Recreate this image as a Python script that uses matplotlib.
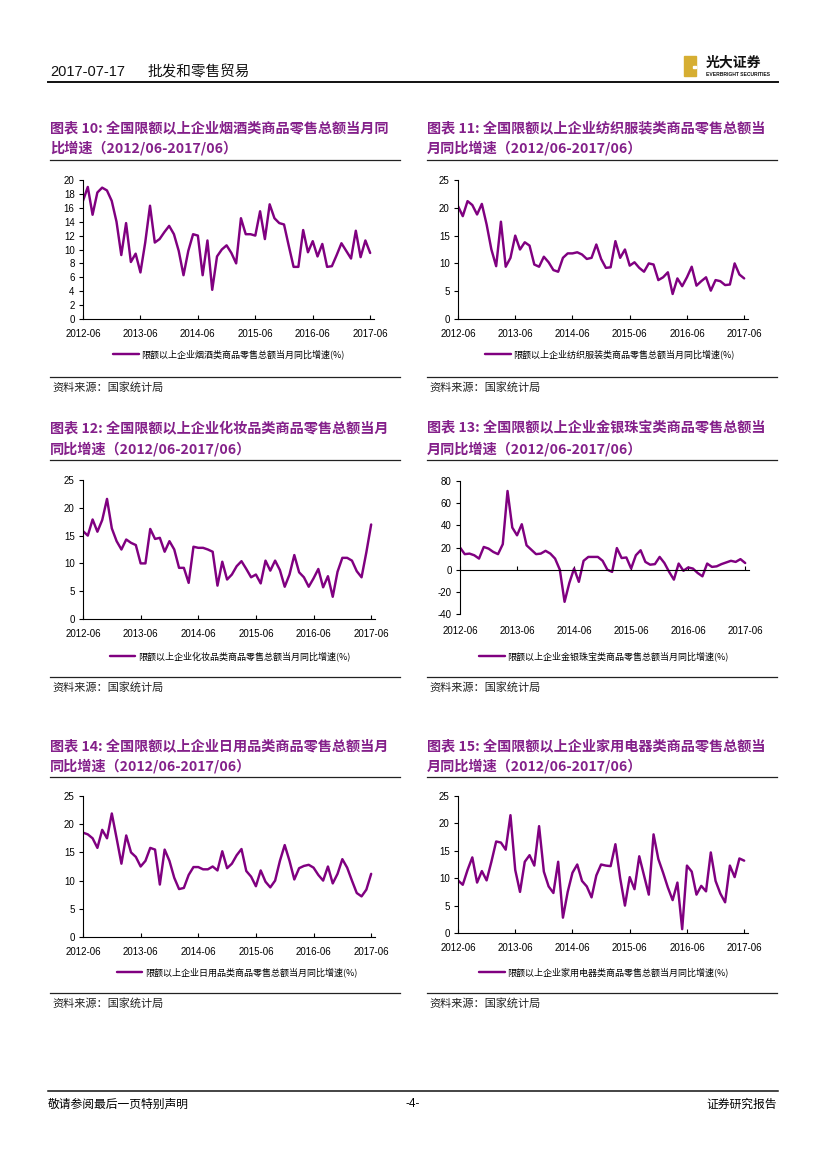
import numpy as np
import matplotlib
matplotlib.use("Agg")
import matplotlib.pyplot as plt
from matplotlib.lines import Line2D
from matplotlib.patches import Rectangle

plt.rcParams['font.family'] = ['Liberation Sans', 'Noto Sans CJK SC', 'DejaVu Sans']
plt.rcParams['axes.unicode_minus'] = False

# monthly series, 2012-06 .. 2017-06 (61 months), yoy growth %
months = np.arange(61)
tick_pos = [0, 12, 24, 36, 48, 60]
tick_labels = ['2012-06', '2013-06', '2014-06', '2015-06', '2016-06', '2017-06']

tobacco = [17.0, 19.0, 15.0, 18.2, 18.9, 18.5, 17.0, 14.0, 9.2, 13.8,
           8.2, 9.4, 6.7, 11.0, 16.3, 11.0, 11.5, 12.5, 13.4, 12.2,
           9.8, 6.3, 9.8, 12.2, 12.0, 6.3, 11.3, 4.2, 9.0, 10.0,
           10.6, 9.5, 8.0, 14.5, 12.2, 12.2, 12.0, 15.5, 11.5, 16.5,
           14.5, 13.8, 13.6, 10.5, 7.5, 7.5, 12.8, 9.6, 11.2, 9.0,
           10.8, 7.5, 7.6, 9.2, 10.9, 9.8, 8.7, 12.7, 8.9, 11.3, 9.5]

textile = [20.3, 18.5, 21.2, 20.5, 18.8, 20.7, 17.0, 12.5, 9.5, 17.5,
           9.4, 11.0, 15.0, 12.5, 13.8, 13.2, 9.8, 9.4, 11.2, 10.2,
           8.8, 8.5, 11.0, 11.8, 11.8, 12.0, 11.6, 10.8, 11.0, 13.4,
           10.8, 9.2, 9.3, 14.0, 11.0, 12.5, 9.6, 10.2, 9.2, 8.5,
           10.0, 9.8, 7.0, 7.5, 8.4, 4.5, 7.3, 5.9, 7.5, 9.4,
           6.0, 6.8, 7.5, 5.1, 7.0, 6.8, 6.1, 6.2, 10.0, 8.0, 7.3]

cosmetics = [15.8, 15.0, 17.9, 15.7, 17.8, 21.6, 16.3, 14.0, 12.5, 14.3,
             13.7, 13.3, 10.0, 10.0, 16.2, 14.4, 14.6, 12.1, 14.0, 12.5,
             9.2, 9.2, 6.5, 13.0, 12.8, 12.8, 12.5, 12.1, 6.0, 10.3,
             7.1, 8.0, 9.5, 10.4, 9.0, 7.5, 8.0, 6.4, 10.5, 8.7,
             10.5, 8.8, 5.8, 8.0, 11.5, 8.4, 7.5, 5.8, 7.3, 9.0,
             5.7, 7.7, 4.0, 8.5, 11.0, 11.0, 10.5, 8.6, 7.5, 12.0, 17.0]

jewelry = [20, 14, 14.5, 13, 10, 20.5, 19, 16, 14, 23,
           71, 38, 31, 41, 22, 18, 14, 14.5, 17, 14.5,
           10, 0, -29, -12, 1, -11, 8, 11.5, 11.5, 11.5,
           8, 0, -2, 19.5, 10.5, 11, 1, 13, 17.5, 7,
           4.5, 5, 11.5, 6, -2, -9, 5.5, -1, 2, 1,
           -3, -6, 5.5, 2.5, 3, 5, 6.5, 8, 7, 9.5, 6]

daily = [18.5, 18.2, 17.5, 15.8, 19.0, 17.5, 21.9, 17.5, 13.0, 18.0,
         15.0, 14.2, 12.5, 13.5, 15.8, 15.5, 9.3, 15.5, 13.5, 10.5,
         8.5, 8.7, 11.0, 12.4, 12.4, 12.0, 12.0, 12.5, 11.8, 15.2,
         12.2, 13.0, 14.5, 15.6, 11.7, 10.7, 9.0, 11.8, 9.8, 8.8,
         10.0, 13.5, 16.3, 13.5, 10.2, 12.2, 12.6, 12.8, 12.3, 11.0,
         10.0, 12.5, 9.5, 11.2, 13.8, 12.3, 10.0, 7.8, 7.2, 8.4, 11.2]

appliance = [9.6, 8.8, 11.5, 13.8, 9.2, 11.3, 9.6, 13.0, 16.7, 16.5,
             15.2, 21.5, 11.5, 7.5, 13.0, 14.2, 12.3, 19.5, 11.2, 8.5,
             7.3, 13.0, 2.8, 7.5, 11.0, 12.5, 9.5, 8.5, 6.5, 10.5,
             12.5, 12.3, 12.2, 16.2, 10.0, 5.0, 10.2, 8.0, 14.0, 10.5,
             7.0, 18.0, 13.5, 11.0, 8.3, 6.0, 9.2, 0.7, 12.3, 11.2,
             7.0, 8.6, 7.6, 14.7, 9.5, 7.2, 5.6, 12.3, 10.2, 13.6, 13.2]

titles = [
    ("图表 10: 全国限额以上企业烟酒类商品零售总额当月同", "比增速（2012/06-2017/06）"),
    ("图表 11: 全国限额以上企业纺织服装类商品零售总额当", "月同比增速（2012/06-2017/06）"),
    ("图表 12: 全国限额以上企业化妆品类商品零售总额当月", "同比增速（2012/06-2017/06）"),
    ("图表 13: 全国限额以上企业金银珠宝类商品零售总额当", "月同比增速（2012/06-2017/06）"),
    ("图表 14: 全国限额以上企业日用品类商品零售总额当月", "同比增速（2012/06-2017/06）"),
    ("图表 15: 全国限额以上企业家用电器类商品零售总额当", "月同比增速（2012/06-2017/06）"),
]
legend_labels = [
    "限额以上企业烟酒类商品零售总额当月同比增速(%)",
    "限额以上企业纺织服装类商品零售总额当月同比增速(%)",
    "限额以上企业化妆品类商品零售总额当月同比增速(%)",
    "限额以上企业金银珠宝类商品零售总额当月同比增速(%)",
    "限额以上企业日用品类商品零售总额当月同比增速(%)",
    "限额以上企业家用电器类商品零售总额当月同比增速(%)",
]
series = [tobacco, textile, cosmetics, jewelry, daily, appliance]
y_ranges = [(0, 20, 2), (0, 25, 5), (0, 25, 5), (-40, 80, 20), (0, 25, 5), (0, 25, 5)]

LINE = '#800080'
TITLE = '#84208A'
CJK = ['Noto Sans CJK SC', 'DejaVu Sans']

W, H = 827, 1169
fig = plt.figure(figsize=(8.27, 11.69), dpi=100)


def fx(px):
    return px / W


def fy(py):
    return 1 - py / H


def hline(x0, x1, y, lw=0.9, color='#222222'):
    fig.add_artist(Line2D([fx(x0), fx(x1)], [fy(y), fy(y)], color=color, lw=lw))


# page header
fig.text(fx(50), fy(72), "2017-07-17", fontsize=10.5, va='center', color='#111111')
fig.text(fx(148), fy(72), "批发和零售贸易", fontsize=10.5, va='center', family=CJK, color='#111111')
hline(48, 778, 82, lw=1.4, color='#111111')
fig.add_artist(Rectangle((fx(684), fy(76)), 12 / W, 20 / H, color='#D6AE32', transform=fig.transFigure))
fig.add_artist(Rectangle((fx(693), fy(67.5)), 3 / W, 2 / H, color='white', transform=fig.transFigure))
fig.text(fx(706), fy(63), "光大证券", fontsize=10, fontweight='bold', va='center', family=CJK, color='#111111')
fig.text(fx(706), fy(74), "EVERBRIGHT SECURITIES", fontsize=3.6, fontweight='bold', va='center', color='#111111')

# page footer
hline(48, 778, 1091, lw=1.1, color='#111111')
fig.text(fx(48), fy(1104), "敬请参阅最后一页特别声明", fontsize=8.5, va='center', family=CJK)
fig.text(fx(413), fy(1104), "-4-", fontsize=8.5, va='center', ha='center')
fig.text(fx(777), fy(1104), "证券研究报告", fontsize=8.5, va='center', ha='right', family=CJK)

# panel layout in page pixels
col_x = [(48, 400), (425, 777)]
row_y = [dict(t1=128, t2=148, rule=160, bottom_rule=377, src=387, leg=354),
         dict(t1=428, t2=449, rule=460, bottom_rule=677, src=687, leg=656),
         dict(t1=746, t2=766, rule=777, bottom_rule=993, src=1003, leg=972)]
axes_box = [(83, 180, 374, 319), (458, 180, 748, 319),
            (83, 480, 375, 619), (460, 481, 749, 614),
            (83, 796, 375, 937), (458, 796, 748, 933)]
legend_cx = [229, 610, 230, 604, 237, 604]

for i in range(6):
    r, c = divmod(i, 2)
    x0, x1 = col_x[c]
    ry = row_y[r]

    fig.text(fx(x0 + 2), fy(ry['t1']), titles[i][0], color=TITLE, fontsize=10.2,
             fontweight='bold', va='center', family=CJK)
    fig.text(fx(x0 + 2), fy(ry['t2']), titles[i][1], color=TITLE, fontsize=10.2,
             fontweight='bold', va='center', family=CJK)
    hline(x0 + 2, x1, ry['rule'])
    hline(x0 + 2, x1, ry['bottom_rule'])
    fig.text(fx(x0 + 4), fy(ry['src']), "资料来源：国家统计局", fontsize=8,
             va='center', family=CJK, color='#222222')

    left, top, right, bottom = axes_box[i]
    ax = fig.add_axes([fx(left), fy(bottom), (right - left) / W, (bottom - top) / H])
    line, = ax.plot(months, series[i], color=LINE, lw=1.75, solid_joinstyle='round',
                    solid_capstyle='round')
    ymin, ymax, ystep = y_ranges[i]
    ax.set_ylim(ymin, ymax)
    ax.set_yticks(np.arange(ymin, ymax + 0.1, ystep))
    ax.set_xlim(0, 60.8)
    for s in ['top', 'right']:
        ax.spines[s].set_visible(False)
    for s in ['left', 'bottom']:
        ax.spines[s].set_linewidth(0.8)
    ax.tick_params(axis='y', direction='out', length=3, width=0.8, labelsize=7, pad=3)
    ax.set_xticks(tick_pos)
    if ymin < 0:
        ax.spines['bottom'].set_position(('data', 0))
        ax.tick_params(axis='x', direction='in', length=3, width=0.8, labelbottom=False)
        sec = ax.secondary_xaxis('bottom')
        sec.set_xticks(tick_pos, labels=tick_labels)
        sec.tick_params(length=0, labelsize=7, pad=9)
        sec.spines['bottom'].set_visible(False)
    else:
        ax.set_xticklabels(tick_labels)
        ax.tick_params(axis='x', direction='in', length=3, width=0.8, labelsize=7, pad=7)

    ax.legend([line], [legend_labels[i]], loc='center', frameon=False,
              bbox_to_anchor=(fx(legend_cx[i]), fy(ry['leg'])), bbox_transform=fig.transFigure,
              handlelength=2.8, handletextpad=0.3, prop={'family': CJK, 'size': 6.5})

fig.savefig("out.png", dpi=100)
